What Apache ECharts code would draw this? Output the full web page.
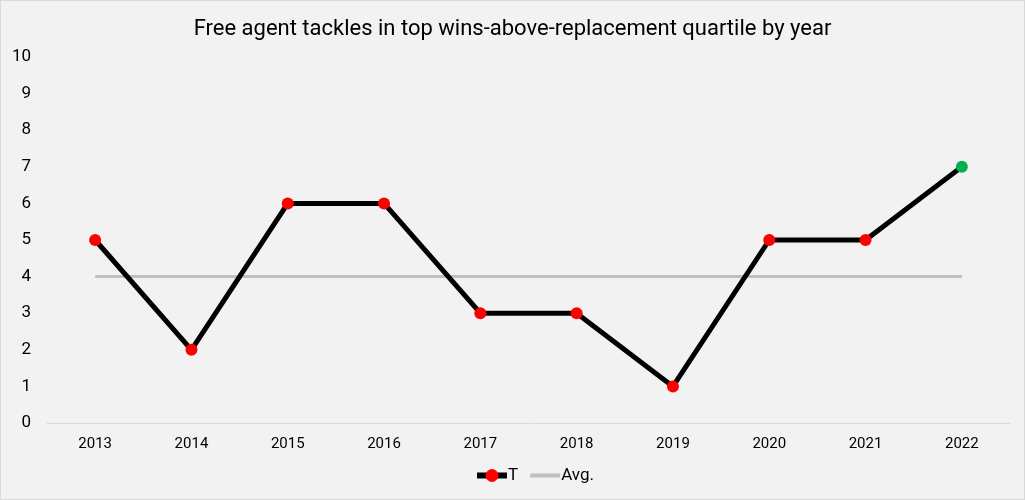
<!DOCTYPE html>
<html><head><meta charset="utf-8">
<script src="https://cdn.jsdelivr.net/npm/echarts@6/dist/echarts.min.js"></script>
<style>html,body{margin:0;padding:0;background:#f2f2f2}#c{width:1023px;height:498px;border:1px solid #d9d9d9}</style>
</head><body><div id="c"></div>
<script>
const years = ['2013','2014','2015','2016','2017','2018','2019','2020','2021','2022'];
const tValues = [5,2,6,6,3,3,1,5,5,7];
const avgValues = [4,4,4,4,4,4,4,4,4,4];
const highlightIndex = 9;

const chart = echarts.init(document.getElementById('c'));
chart.setOption({
  backgroundColor: '#f2f2f2',
  animation: false,
  textStyle: {fontFamily: 'Roboto'},
  title: {text: 'Free agent tackles in top wins-above-replacement quartile by year', left: 'center', top: 12,
    textStyle: {fontFamily: 'Roboto', fontSize: 22, fontWeight: 'normal', color: '#000'}},
  grid: {left: 46, right: 14, top: 56, bottom: 76},
  legend: {bottom: 10, left: 468, itemGap: 10, itemWidth: 30, itemHeight: 16,
    textStyle: {fontFamily: 'Roboto', fontSize: 17, color: '#000', padding: [0, 0, 0, -4]},
    data: [{name: 'T', lineStyle: {width: 6}}, {name: 'Avg.', itemStyle: {opacity: 0}, lineStyle: {width: 4}}]},
  xAxis: {type: 'category', data: years, boundaryGap: true,
    axisLine: {lineStyle: {color: '#d9d9d9', width: 1}}, axisTick: {show: false},
    axisLabel: {color: '#000', fontSize: 15, margin: 14}},
  yAxis: {type: 'value', min: 0, max: 10, interval: 1,
    splitLine: {show: false}, axisLine: {show: false}, axisTick: {show: false},
    axisLabel: {color: '#000', fontSize: 17, margin: 16}},
  series: [
    {name: 'T', type: 'line', data: tValues.map((v, i) => i === highlightIndex ? {value: v, itemStyle: {color: '#00b050'}} : v),
      symbol: 'circle', symbolSize: 12, lineStyle: {color: '#000', width: 5},
      itemStyle: {color: '#ff0000', borderWidth: 0}, z: 3},
    {name: 'Avg.', type: 'line', data: avgValues, symbol: 'none',
      lineStyle: {color: '#bfbfbf', width: 3}, itemStyle: {color: '#bfbfbf'}, z: 2}
  ]
});
</script></body></html>
